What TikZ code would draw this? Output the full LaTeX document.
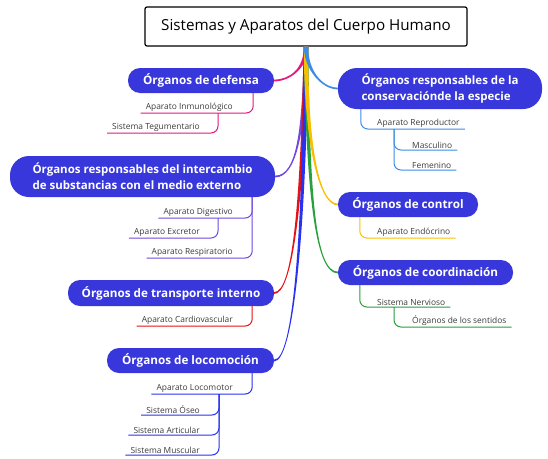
\documentclass[tikz,border=0pt]{standalone}
\usepackage{fontspec}
\setmainfont{Open Sans}
\usetikzlibrary{calc}

\definecolor{pillblue}{RGB}{55,55,220}
\definecolor{leafgray}{RGB}{60,60,60}
\definecolor{pinkB}{RGB}{228,25,125}
\definecolor{lblueB}{RGB}{60,140,230}
\definecolor{purpleB}{RGB}{112,72,224}
\definecolor{redB}{RGB}{228,18,18}
\definecolor{blueB}{RGB}{40,50,240}
\definecolor{yellowB}{RGB}{250,190,0}
\definecolor{greenB}{RGB}{40,160,60}

% tapered main branch: colour, end anchor, control 1, control 2, end offsets
\newcommand{\branch}[6]{%
  \fill[#1] ($(root)+(-2.3,0)$) .. controls ($#3+(-1.7,0)$) and ($#4+(0,#5)$) .. ($(#2)+(0,#5)$)
    -- ($(#2)+(0,#6)$) .. controls ($#4+(0,#6)$) and ($#3+(1.7,0)$) .. ($(root)+(2.3,0)$) -- cycle;}

\tikzset{
  title/.style={draw=black, line width=1.2pt, rounded corners=2pt, fill=white,
    minimum width=322pt, minimum height=39pt, font=\fontsize{15.2}{18}\selectfont},
  pill/.style={fill=pillblue, text=white, rounded corners=12pt, minimum height=25pt,
    font=\bfseries\fontsize{11.7}{13}\selectfont},
  pilltwo/.style={pill, rounded corners=19pt, minimum height=41pt, align=left,
    font=\bfseries\fontsize{11.5}{16}\selectfont},
  leaf/.style={text=leafgray, inner xsep=5pt, inner ysep=1pt,
    font=\fontsize{8.4}{10}\selectfont},
  twig/.style={line width=1pt, rounded corners=7pt},
}

\begin{document}
\begin{tikzpicture}[x=1pt, y=-1pt]
\useasboundingbox (0,0) rectangle (548,458);

\node[title] (title) at (306,26.5) {Sistemas y Aparatos del Cuerpo Humano};
\coordinate (root) at (title.south);

% main topics
\node[pill, minimum width=146pt] (defensa) at (201,80.5) {Órganos de defensa};
\node[pilltwo, minimum width=204pt] (conservacion) at (440,88.5) {Órganos responsables de la\\conservaciónde la especie};
\node[pilltwo, minimum width=265pt] (intercambio) at (142.5,176.5) {Órganos responsables del intercambio\\de substancias con el medio externo};
\node[pill, minimum width=140pt] (control) at (408,204.5) {Órganos de control};
\node[pill, minimum width=175pt] (coordinacion) at (425.5,272.5) {Órganos de coordinación};
\node[pill, minimum width=206pt, minimum height=26pt] (transporte) at (171,293) {Órganos de transporte interno};
\node[pill, minimum width=167pt] (locomocion) at (190.5,360.5) {Órganos de locomoción};

% branches from the title
\branch{pinkB}{defensa.east}{(306,68)}{(290,80.5)}{-0.9}{0.9}
\branch{purpleB}{intercambio.east}{(304,130)}{(297,176.5)}{-0.9}{0.9}
\branch{redB}{transporte.east}{(302,210)}{(292,293)}{-0.9}{0.9}
\branch{blueB}{locomocion.east}{(304,250)}{(292,360.5)}{-0.9}{0.9}
\branch{greenB}{coordinacion.west}{(308,200)}{(316,272.5)}{0.9}{-0.9}
\branch{yellowB}{control.west}{(306,150)}{(320,204.5)}{0.9}{-0.9}
\branch{lblueB}{conservacion.west}{(306,70)}{(322,88.5)}{0.9}{-0.9}

% left side leaves
\node[leaf, anchor=south east] (inmuno) at (238,113) {Aparato Inmunológico};
\node[leaf, anchor=south east] (tegu) at (205,133) {Sistema Tegumentario};
\node[leaf, anchor=south east] (digest) at (238,218) {Aparato Digestivo};
\node[leaf, anchor=south east] (excret) at (205,238) {Aparato Excretor};
\node[leaf, anchor=south east] (respir) at (238,258) {Aparato Respiratorio};
\node[leaf, anchor=south east] (cardio) at (238,326) {Aparato Cardiovascular};
\node[leaf, anchor=south east] (locomot) at (238,394) {Aparato Locomotor};
\node[leaf, anchor=south east] (oseo) at (205,415) {Sistema Óseo};
\node[leaf, anchor=south east] (artic) at (205,435) {Sistema Articular};
\node[leaf, anchor=south east] (muscul) at (205,455) {Sistema Muscular};

% right side leaves
\node[leaf, anchor=south west] (reprod) at (372,129) {Aparato Reproductor};
\node[leaf, anchor=south west] (mascul) at (407,150) {Masculino};
\node[leaf, anchor=south west] (femen) at (407,170) {Femenino};
\node[leaf, anchor=south west] (endocr) at (372,238) {Aparato Endócrino};
\node[leaf, anchor=south west] (nervio) at (372,307) {Sistema Nervioso};
\node[leaf, anchor=south west] (sentid) at (407,327) {Órganos de los sentidos};

% underlines
\draw[twig, pinkB] ($(defensa.south east)+(-21,0)$) |- (inmuno.south west);
\draw[twig, pinkB] ($(inmuno.south east)+(-20,0)$) |- (tegu.south west);

\draw[twig, purpleB] ($(intercambio.south east)+(-23,0)$) |- (digest.south west);
\draw[twig, purpleB] ($(intercambio.south east)+(-23,0)$) |- (respir.south west);
\draw[twig, purpleB] ($(digest.south east)+(-20,0)$) |- (excret.south west);

\draw[twig, redB] ($(transporte.south east)+(-22,0)$) |- (cardio.south west);

\draw[twig, blueB] ($(locomocion.south east)+(-22,0)$) |- (locomot.south west);
\draw[twig, blueB] ($(locomot.south east)+(-19,0)$) |- (oseo.south west);
\draw[twig, blueB] ($(locomot.south east)+(-19,0)$) |- (artic.south west);
\draw[twig, blueB] ($(locomot.south east)+(-19,0)$) |- (muscul.south west);

\draw[twig, lblueB] ($(conservacion.south west)+(23,0)$) |- (reprod.south east);
\draw[twig, lblueB] ($(reprod.south west)+(22,0)$) |- (mascul.south east);
\draw[twig, lblueB] ($(reprod.south west)+(22,0)$) |- (femen.south east);

\draw[twig, yellowB] ($(control.south west)+(22,0)$) |- (endocr.south east);

\draw[twig, greenB] ($(coordinacion.south west)+(22,0)$) |- (nervio.south east);
\draw[twig, greenB] ($(nervio.south west)+(22,0)$) |- (sentid.south east);
\end{tikzpicture}
\end{document}
